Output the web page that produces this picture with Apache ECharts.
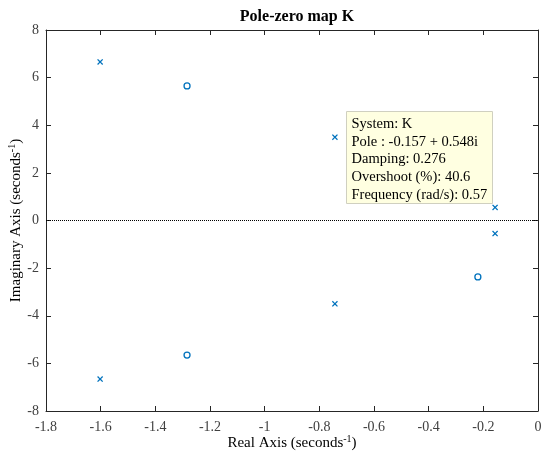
<!DOCTYPE html>
<html>
<head>
<meta charset="utf-8">
<script src="https://cdn.jsdelivr.net/npm/echarts@6/dist/echarts.min.js"></script>
<style>
  html, body { margin: 0; padding: 0; background: #fff; }
  #main { width: 541px; height: 458px; }
</style>
</head>
<body>
<div id="main"></div>
<script>
// 极点和零点数据
var poleRe = [-1.602, -1.602, -0.743, -0.743, -0.157, -0.157];
var poleIm = [6.66, -6.66, 3.50, -3.50, 0.548, -0.548];
var zeroRe = [-1.284, -1.284, -0.22];
var zeroIm = [5.65, -5.65, -2.37];
var tipLines = [
  'System: K',
  'Pole : -0.157 + 0.548i',
  'Damping: 0.276',
  'Overshoot (%): 40.6',
  'Frequency (rad/s): 0.57'
];

var font = 'Liberation Serif, Times New Roman, serif';
var axisColor = '#262626';
var markColor = '#0072BD';
var xMark = 'path://M0,1.5L1.5,0L5,3.5L8.5,0L10,1.5L6.5,5L10,8.5L8.5,10L5,6.5L1.5,10L0,8.5L3.5,5Z';

function pairs(re, im) {
  return re.map(function (v, i) { return [v, im[i]]; });
}

var myChart = echarts.init(document.getElementById('main'));

var baseX = {
  type: 'value', min: -1.8, max: 0, interval: 0.2,
  axisLine: { show: true, onZero: false, lineStyle: { color: axisColor, width: 1 } },
  axisTick: { show: true, inside: true, length: 5, lineStyle: { color: axisColor } },
  splitLine: { show: false }
};
var baseY = {
  type: 'value', min: -8, max: 8, interval: 2,
  axisLine: { show: true, onZero: false, lineStyle: { color: axisColor, width: 1 } },
  axisTick: { show: true, inside: true, length: 5, lineStyle: { color: axisColor } },
  splitLine: { show: false }
};

var rich = {
  n: { fontFamily: font, fontSize: 15, color: '#000' },
  s: { fontFamily: font, fontSize: 10, color: '#000', verticalAlign: 'top', padding: [0, 0, 9, 0] }
};

var option = {
  animation: false,
  backgroundColor: '#fff',
  title: {
    text: 'Pole-zero map K',
    left: 292, top: 4, textAlign: 'center',
    textStyle: { fontFamily: font, fontSize: 16, fontWeight: 'bold', color: '#000' }
  },
  grid: { left: 46, right: 3, top: 30, bottom: 47, outerBoundsMode: 'none', containLabel: false },
  xAxis: [
    Object.assign({}, baseX, {
      position: 'bottom',
      name: '{n|Real Axis (seconds}{s|-1}{n|)}',
      nameLocation: 'middle', nameGap: 23, nameMoveOverlap: false,
      nameTextStyle: { rich: rich },
      axisLabel: {
        fontFamily: font, fontSize: 14, color: '#404040', margin: 9,
        formatter: function (v) { return String(Math.round(v * 10) / 10); }
      }
    }),
    Object.assign({}, baseX, { position: 'top', axisLabel: { show: false } })
  ],
  yAxis: [
    Object.assign({}, baseY, {
      position: 'left',
      name: '{n|Imaginary Axis (seconds}{s|-1}{n|)}',
      nameLocation: 'middle', nameGap: 20, nameMoveOverlap: false,
      nameTextStyle: { rich: rich },
      axisLabel: { fontFamily: font, fontSize: 14, color: '#404040', margin: 7 }
    }),
    Object.assign({}, baseY, { position: 'right', axisLabel: { show: false } })
  ],
  series: [
    {
      name: 'Poles',
      type: 'scatter',
      data: pairs(poleRe, poleIm),
      symbol: xMark,
      symbolSize: 6,
      itemStyle: { color: markColor, opacity: 1 },
      markLine: {
        silent: true,
        symbol: ['none', 'none'],
        label: { show: false },
        lineStyle: { color: '#000', type: [1, 1], width: 1 },
        data: [{ yAxis: 0 }]
      },
      z: 3
    },
    {
      name: 'Zeros',
      type: 'scatter',
      data: pairs(zeroRe, zeroIm),
      symbol: 'circle',
      symbolSize: 6,
      itemStyle: { color: 'transparent', borderColor: markColor, borderWidth: 1.3, opacity: 1 },
      z: 3
    }
  ]
};

myChart.setOption(option);

// 数据提示框
myChart.setOption({
  graphic: [{
    type: 'group',
    left: 346, top: 111,
    children: [
      {
        type: 'rect',
        shape: { x: 0, y: 0, width: 146, height: 92 },
        style: { fill: '#ffffe1', stroke: '#d0d0c0', lineWidth: 1 }
      },
      {
        type: 'text',
        x: 5, y: 4,
        style: {
          text: tipLines.join('\n'),
          fontFamily: font, fontSize: 14.5, lineHeight: 17.6, fill: '#000'
        }
      }
    ]
  }]
});
</script>
</body>
</html>
